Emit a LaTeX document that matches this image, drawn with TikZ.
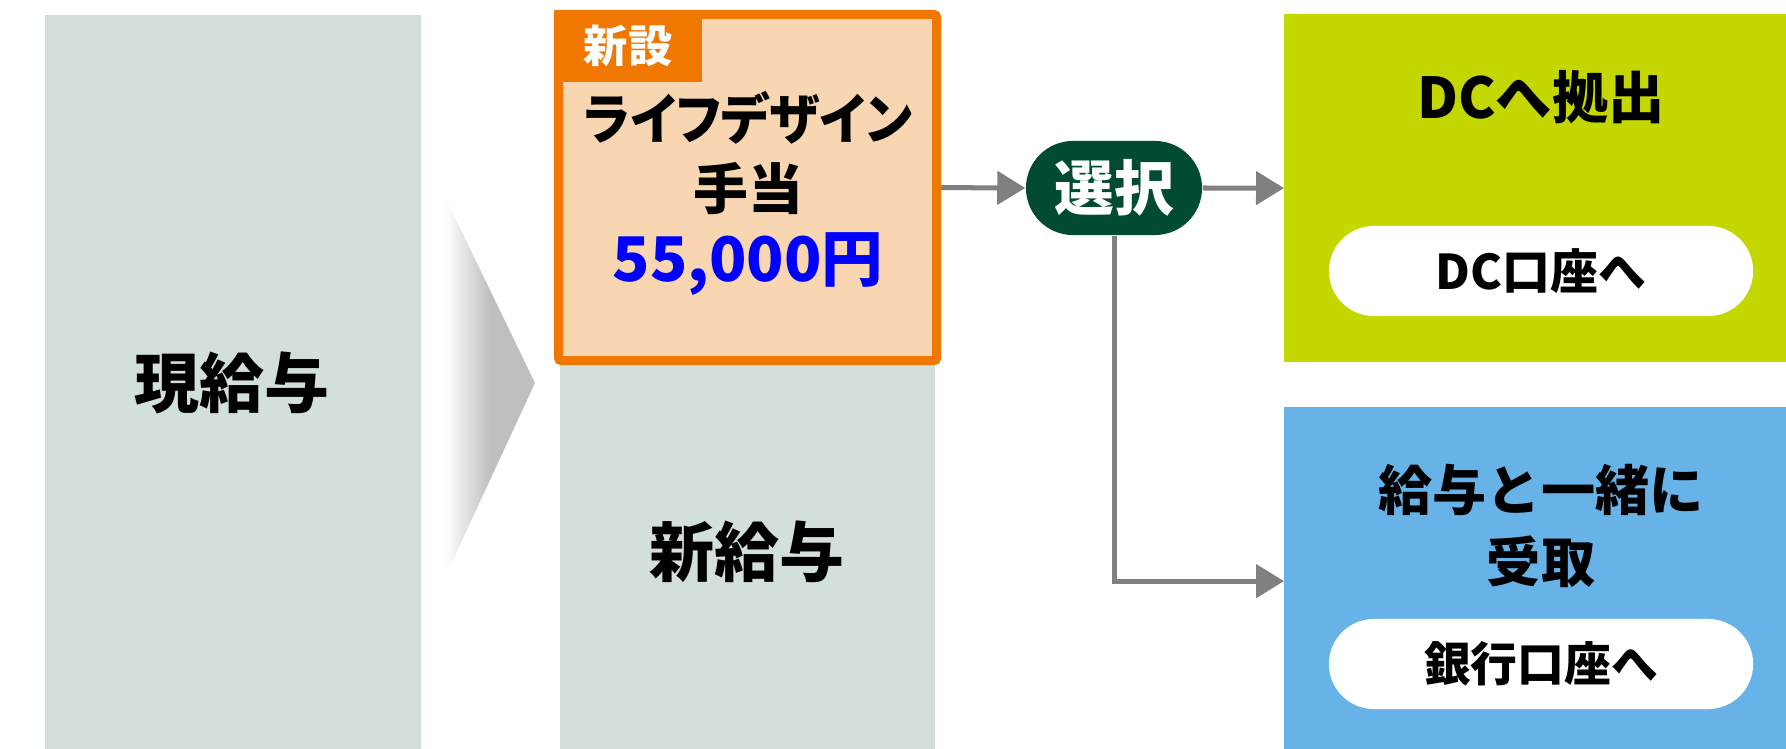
\documentclass[tikz,border=0pt]{standalone}
\usepackage{fontspec}
\usepackage{graphicx}
\setmainfont{Noto Sans CJK JP}
\newfontfamily\jppalt{Noto Sans CJK JP}[RawFeature=+palt]
\usetikzlibrary{arrows.meta,shapes.misc}
\definecolor{salgray}{HTML}{D2DFDB}
\definecolor{orng}{HTML}{F07800}
\definecolor{peach}{HTML}{F8D6B2}
\definecolor{dkgreen}{HTML}{004B32}
\definecolor{lime}{HTML}{C4D700}
\definecolor{skyblue}{HTML}{67B3E8}
\definecolor{arrgray}{HTML}{808080}
\definecolor{chevgray}{HTML}{BFBFBF}
\definecolor{amtblue}{HTML}{0000FF}
\pgfdeclarehorizontalshading{chevshade}{100bp}{color(0bp)=(white); color(25bp)=(white); color(50bp)=(chevgray); color(100bp)=(chevgray)}
\tikzset{
  panel/.style={anchor=north west, inner sep=0pt, outer sep=0pt},
  pill/.style={rounded rectangle, fill=white, inner sep=0pt, minimum width=4.24cm, minimum height=0.9cm},
  conn/.style={draw=arrgray, line width=0.05cm, -{Triangle[length=0.28cm,width=0.33cm]}},
  bigtxt/.style={font=\bfseries\fontsize{18.5pt}{22pt}\selectfont, inner sep=0pt},
}
\begin{document}
\begin{tikzpicture}[x=0.01cm,y=-0.01cm]
\useasboundingbox (0,0) rectangle (1786,749);
% current salary
\node[panel, fill=salgray, minimum width=3.76cm, minimum height=7.34cm] (cur) at (45,15) {};
\node[bigtxt] (curtxt) at (232,383) {現給与};
% chevron
\shade[shading=chevshade] (445,197) -- (535,383) -- (445,577) -- cycle;
% new salary
\node[panel, fill=salgray, minimum width=3.75cm, minimum height=7.34cm] (new) at (560,15) {};
\node[bigtxt] (newtxt) at (747,552) {新給与};
% allowance box
\node[panel, draw=orng, line width=0.09cm, fill=peach, rounded corners=0.03cm, minimum width=3.78cm, minimum height=3.46cm, outer sep=0.045cm] (allow) at (554,10) {};
\node[panel, fill=orng, minimum width=1.48cm, minimum height=0.72cm, text=white, font=\bfseries\fontsize{12.6pt}{15pt}\selectfont] (tag) at (554,10) {新設};
\node[align=center, inner sep=0pt, font=\bfseries\fontsize{15.6pt}{19.9pt}\selectfont] (allowtxt) at (748,193)
  {\scalebox{0.93}[1]{\jppalt ライフデザイン}\\
   手当\\[0.6pt]
   {\fontsize{17.5pt}{20.5pt}\selectfont\color{amtblue}55,000円}};
% choice
\node[rounded rectangle, fill=dkgreen, text=white, minimum width=1.76cm, minimum height=0.94cm, inner sep=0pt, font=\bfseries\fontsize{17pt}{20pt}\selectfont] (sel) at (1114,188) {選択};
% DC
\node[panel, fill=lime, minimum width=5.02cm, minimum height=3.48cm] (dc) at (1284,14) {};
\node[inner sep=0pt, font=\bfseries\fontsize{16pt}{19pt}\selectfont] (dctxt) at (1541,97) {DCへ拠出};
\node[pill, font=\bfseries\fontsize{13.6pt}{16pt}\selectfont] (dcpill) at (1541,271) {DC口座へ};
% bank
\node[panel, fill=skyblue, minimum width=5.02cm, minimum height=3.42cm] (bank) at (1284,407) {};
\node[align=center, inner sep=0pt, font=\bfseries\fontsize{15.4pt}{20.5pt}\selectfont] (banktxt) at (1541,526) {給与と一緒に\\受取};
\node[pill, font=\bfseries\fontsize{13.3pt}{16pt}\selectfont] (bankpill) at (1541,664) {銀行口座へ};
% connectors
\draw[conn] (allow.east) -- (sel.west);
\draw[conn] (sel.east) -- (dc.west);
\draw[conn] (sel.south) |- ([yshift=-0.03cm]bank.west);
\end{tikzpicture}
\end{document}
